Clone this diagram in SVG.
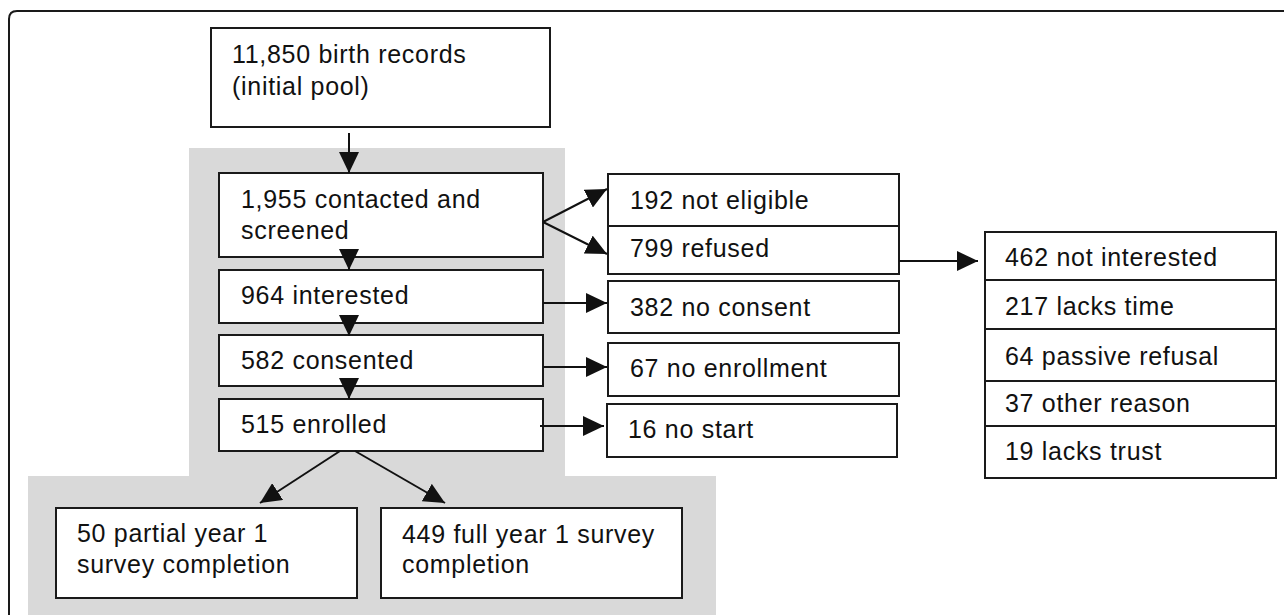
<svg xmlns="http://www.w3.org/2000/svg" width="1284" height="615" viewBox="0 0 1284 615">
  <defs>
    <marker id="ah" markerUnits="userSpaceOnUse" markerWidth="21" markerHeight="20" refX="21" refY="10" orient="auto" viewBox="0 0 21 20">
      <path d="M0,0 L21,10 L0,20 z" fill="#111"/>
    </marker>
    <style>
      .box { fill: #fff; stroke: #1a1a1a; stroke-width: 2; }
      .gray { fill: #d9d9d9; stroke: none; }
      .lbl { font-family: "Liberation Sans", Arial, sans-serif; font-size: 25px; letter-spacing: 0.7px; fill: #111; }
      .con { stroke: #111; stroke-width: 2; fill: none; marker-end: url(#ah); }
    </style>
  </defs>
  <rect width="1284" height="615" fill="#fff"/>
  <!-- outer frame -->
  <path d="M9,640 L9,19 Q9,11 17,11 L1300,11" fill="none" stroke="#1a1a1a" stroke-width="2"/>
  <!-- gray backgrounds -->
  <g id="background">
    <rect class="gray" x="189" y="148" width="376" height="328"/>
    <rect class="gray" x="28" y="476" width="688" height="145"/>
  </g>

  <g id="n-birth">
    <rect class="box" x="211" y="28" width="339" height="99"/>
    <text class="lbl" x="232" y="63">11,850 birth records</text>
    <text class="lbl" x="232" y="95">(initial pool)</text>
  </g>
  <g id="n-contacted">
    <rect class="box" x="219" y="173" width="324" height="84"/>
    <text class="lbl" x="241" y="208">1,955 contacted and</text>
    <text class="lbl" x="241" y="239">screened</text>
  </g>
  <g id="n-interested">
    <rect class="box" x="219" y="270" width="324" height="53"/>
    <text class="lbl" x="241" y="304">964 interested</text>
  </g>
  <g id="n-consented">
    <rect class="box" x="219" y="335" width="324" height="51"/>
    <text class="lbl" x="241" y="369">582 consented</text>
  </g>
  <g id="n-enrolled">
    <rect class="box" x="219" y="399" width="324" height="52"/>
    <text class="lbl" x="241" y="433">515 enrolled</text>
  </g>

  <g id="n-noteligible">
    <rect class="box" x="608" y="174" width="291" height="52"/>
    <text class="lbl" x="630" y="209">192 not eligible</text>
  </g>
  <g id="n-refused">
    <rect class="box" x="608" y="226" width="291" height="48"/>
    <text class="lbl" x="630" y="257">799 refused</text>
  </g>
  <g id="n-noconsent">
    <rect class="box" x="608" y="281" width="291" height="52"/>
    <text class="lbl" x="630" y="316">382 no consent</text>
  </g>
  <g id="n-noenroll">
    <rect class="box" x="608" y="343" width="291" height="53"/>
    <text class="lbl" x="630" y="377">67 no enrollment</text>
  </g>
  <g id="n-nostart">
    <rect class="box" x="607" y="404" width="290" height="53"/>
    <text class="lbl" x="628" y="438">16 no start</text>
  </g>

  <g id="n-reasons">
    <rect class="box" x="985" y="232" width="291" height="48"/>
    <text class="lbl" x="1005" y="266">462 not interested</text>
    <rect class="box" x="985" y="280" width="291" height="49"/>
    <text class="lbl" x="1005" y="315">217 lacks time</text>
    <rect class="box" x="985" y="329" width="291" height="52"/>
    <text class="lbl" x="1005" y="365">64 passive refusal</text>
    <rect class="box" x="985" y="381" width="291" height="45"/>
    <text class="lbl" x="1005" y="412">37 other reason</text>
    <rect class="box" x="985" y="426" width="291" height="52"/>
    <text class="lbl" x="1005" y="460">19 lacks trust</text>
  </g>

  <g id="n-partial">
    <rect class="box" x="56" y="508" width="301" height="90"/>
    <text class="lbl" x="77" y="542">50 partial year 1</text>
    <text class="lbl" x="77" y="573">survey completion</text>
  </g>
  <g id="n-full">
    <rect class="box" x="381" y="508" width="301" height="90"/>
    <text class="lbl" x="402" y="543">449 full year 1 survey</text>
    <text class="lbl" x="402" y="573">completion</text>
  </g>

  <g id="connectors">
    <line class="con" x1="349" y1="133" x2="349" y2="173"/>
    <line class="con" x1="349" y1="249" x2="349" y2="270"/>
    <line class="con" x1="349" y1="315" x2="349" y2="336"/>
    <line class="con" x1="349" y1="378" x2="349" y2="399"/>
    <line class="con" x1="543" y1="222" x2="607" y2="189"/>
    <line class="con" x1="543" y1="222" x2="607" y2="254"/>
    <line class="con" x1="543" y1="303" x2="607" y2="303"/>
    <line class="con" x1="543" y1="367" x2="607" y2="367"/>
    <line class="con" x1="540" y1="426" x2="604" y2="426"/>
    <line class="con" x1="899" y1="261" x2="978" y2="261"/>
    <line class="con" x1="340" y1="451" x2="260" y2="503"/>
    <line class="con" x1="355" y1="451" x2="445" y2="503"/>
  </g>
</svg>
